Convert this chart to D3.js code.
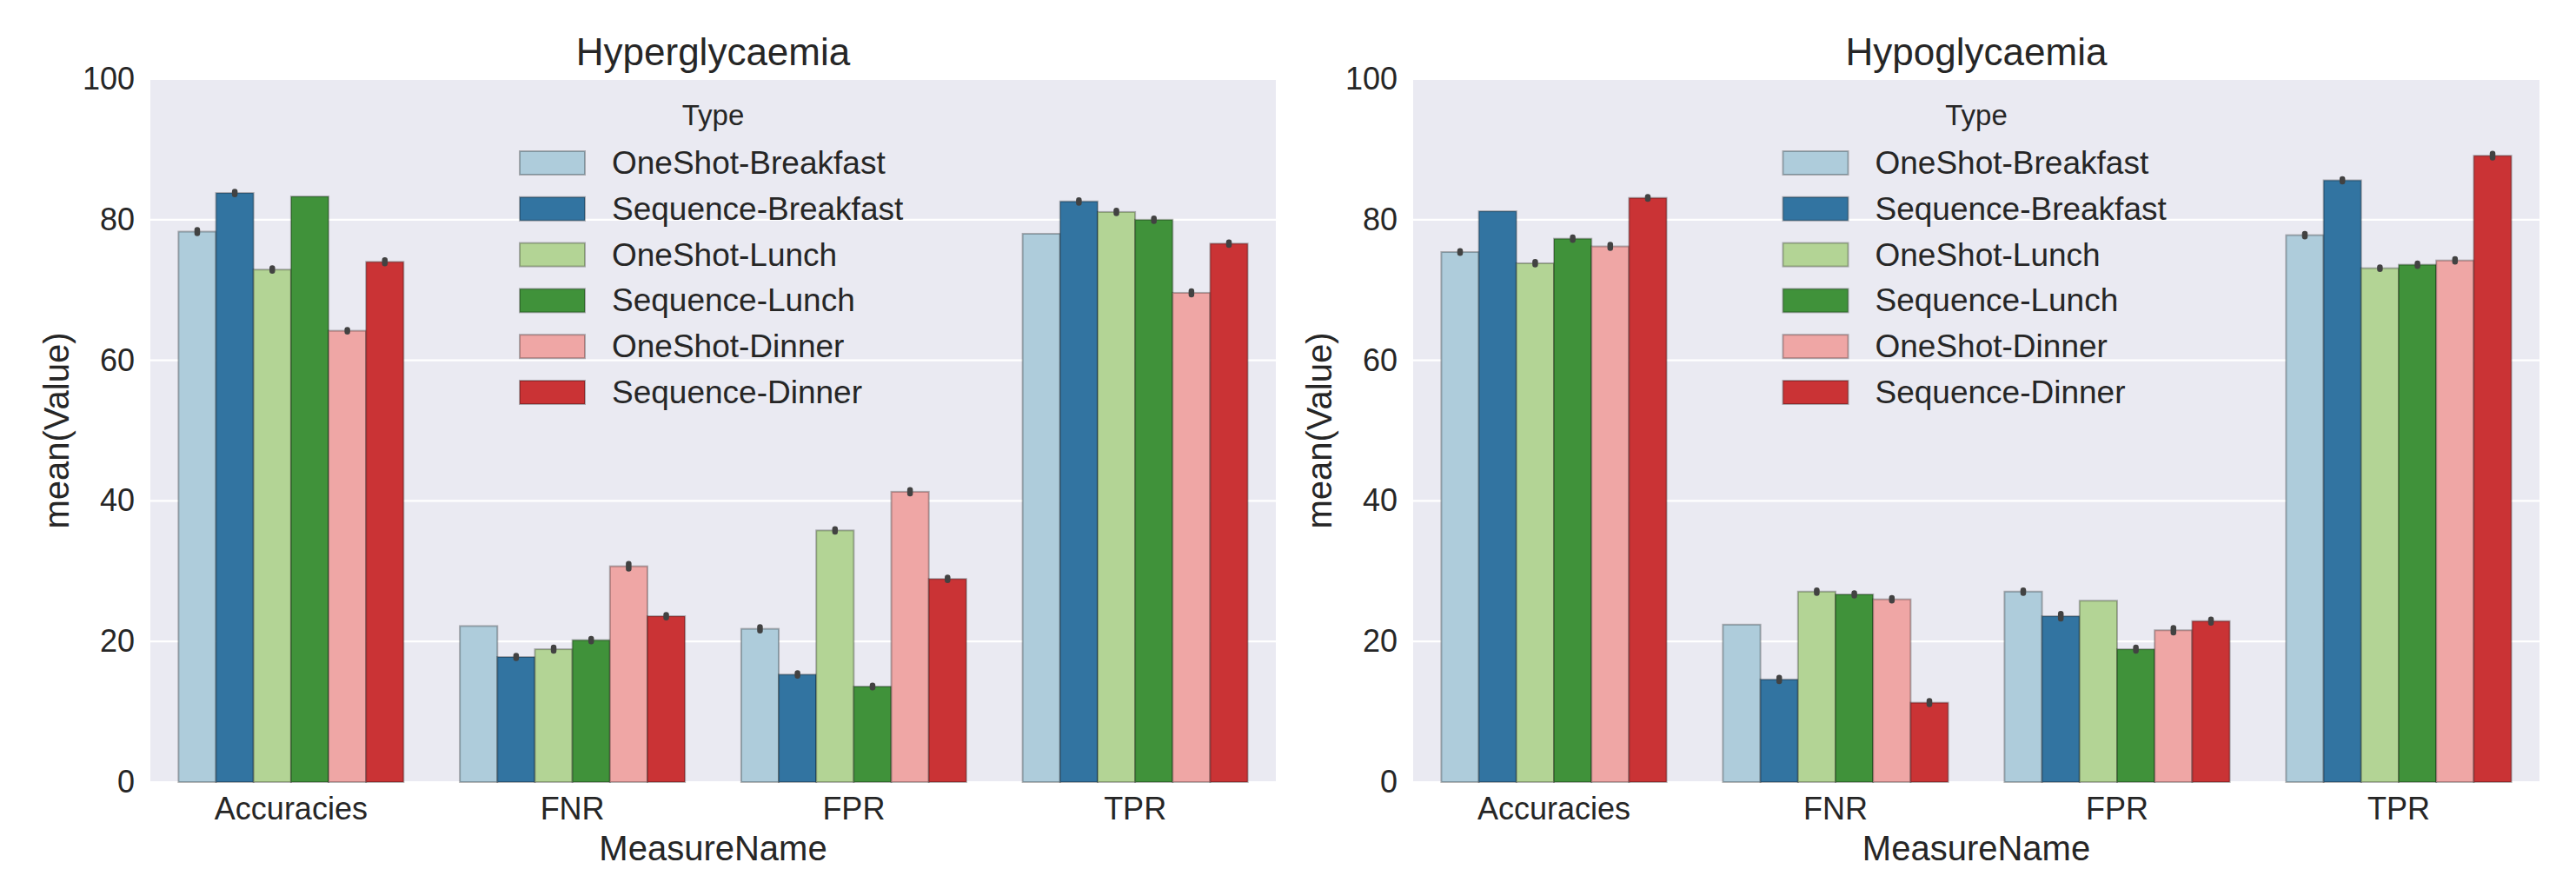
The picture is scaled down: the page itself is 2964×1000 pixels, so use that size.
<!DOCTYPE html>
<html>
<head>
<meta charset="utf-8">
<script src="https://cdn.jsdelivr.net/npm/d3@7"></script>
<style>
  html, body { margin: 0; padding: 0; background: #ffffff; }
  svg { display: block; font-family: "Liberation Sans", Arial, sans-serif; }
</style>
</head>
<body>
<svg id="chart" width="2964" height="1000"></svg>
<script>
// ---------------- DATA ----------------
const measures = ["Accuracies", "FNR", "FPR", "TPR"];
const types = ["OneShot-Breakfast", "Sequence-Breakfast", "OneShot-Lunch",
               "Sequence-Lunch", "OneShot-Dinner", "Sequence-Dinner"];
const yTicks = [0, 20, 40, 60, 80, 100];
const titles = ["Hyperglycaemia", "Hypoglycaemia"];

// values per type, in order of measures
const hyperValues = [
  [78.3, 22.2, 21.8, 78.0],   // OneShot-Breakfast
  [83.8, 17.8, 15.3, 82.6],   // Sequence-Breakfast
  [72.9, 18.9, 35.8, 81.1],   // OneShot-Lunch
  [83.3, 20.2, 13.6, 80.0],   // Sequence-Lunch
  [64.2, 30.7, 41.3, 69.6],   // OneShot-Dinner
  [74.0, 23.6, 28.9, 76.6]    // Sequence-Dinner
];
const hyperErrors = [
  [0.25, 0.00, 0.25, 0.00],
  [0.20, 0.20, 0.20, 0.20],
  [0.20, 0.25, 0.20, 0.20],
  [0.00, 0.20, 0.15, 0.20],
  [0.15, 0.35, 0.25, 0.25],
  [0.25, 0.20, 0.20, 0.20]
];
const hypoValues = [
  [75.4, 22.4, 27.1, 77.8],
  [81.2, 14.6, 23.6, 85.6],
  [73.8, 27.1, 25.8, 73.1],
  [77.3, 26.7, 18.9, 73.6],
  [76.2, 26.0, 21.6, 74.2],
  [83.1, 11.3, 22.9, 89.1]
];
const hypoErrors = [
  [0.15, 0.00, 0.20, 0.20],
  [0.00, 0.25, 0.35, 0.20],
  [0.20, 0.20, 0.00, 0.15],
  [0.20, 0.20, 0.25, 0.20],
  [0.25, 0.20, 0.35, 0.20],
  [0.15, 0.25, 0.25, 0.30]
];

// ---------------- STYLE ----------------
const colors = ["#aeccdb", "#3274a1", "#b3d495", "#40923a", "#efa6a5", "#ca3335"];
const textColor = "#262626";
const panels = [
  { x0: 173, x1: 1468, values: hyperValues, errors: hyperErrors, title: titles[0] },
  { x0: 1626, x1: 2922, values: hypoValues, errors: hypoErrors, title: titles[1] }
];
const yTop = 91, yBottom = 900;

const svg = d3.select("#chart");

panels.forEach(p => {
  const g = svg.append("g");
  const x = d3.scaleBand().domain(measures).range([p.x0, p.x1])
              .paddingInner(0.2).paddingOuter(0.1);
  const xs = d3.scaleBand().domain(types).range([0, x.bandwidth()]).padding(0);
  const y = d3.scaleLinear().domain([0, 100]).range([yBottom, yTop]);

  // background
  g.append("rect").attr("x", p.x0).attr("y", yTop)
    .attr("width", p.x1 - p.x0).attr("height", yBottom - yTop)
    .attr("fill", "#eaeaf2");

  // grid
  g.append("g").selectAll("line").data(yTicks).join("line")
    .attr("x1", p.x0).attr("x2", p.x1)
    .attr("y1", d => y(d)).attr("y2", d => y(d))
    .attr("stroke", "#ffffff").attr("stroke-width", 2.2);

  // y axis
  const ya = g.append("g").attr("transform", `translate(${p.x0},0)`)
    .call(d3.axisLeft(y).tickValues(yTicks).tickSize(0).tickPadding(18));
  ya.select(".domain").remove();
  ya.selectAll("text").attr("font-size", 36).attr("fill", textColor)
    .attr("font-family", "Liberation Sans, Arial, sans-serif");

  // x axis
  const xa = g.append("g").attr("transform", `translate(0,${yBottom})`)
    .call(d3.axisBottom(x).tickSize(0).tickPadding(17));
  xa.select(".domain").remove();
  xa.selectAll("text").attr("font-size", 36).attr("fill", textColor)
    .attr("font-family", "Liberation Sans, Arial, sans-serif");

  // bars
  types.forEach((t, ti) => {
    const rows = measures.map((m, mi) => ({ m, v: p.values[ti][mi], e: p.errors[ti][mi] }));
    g.append("g").selectAll("rect").data(rows).join("rect")
      .attr("x", d => x(d.m) + xs(t))
      .attr("y", d => y(d.v))
      .attr("width", xs.bandwidth())
      .attr("height", d => y(0) - y(d.v))
      .attr("fill", colors[ti])
      .attr("stroke", "rgba(0,0,0,0.28)")
      .attr("stroke-width", 2);
    g.append("g").selectAll("line").data(rows.filter(d => d.e > 0)).join("line")
      .attr("x1", d => x(d.m) + xs(t) + xs.bandwidth() / 2)
      .attr("x2", d => x(d.m) + xs(t) + xs.bandwidth() / 2)
      .attr("y1", d => y(d.v - d.e))
      .attr("y2", d => y(d.v + d.e))
      .attr("stroke", "#424242")
      .attr("stroke-width", 6.5)
      .attr("stroke-linecap", "round");
  });

  const cx = (p.x0 + p.x1) / 2;

  // title
  g.append("text").attr("x", cx).attr("y", 75).attr("text-anchor", "middle")
    .attr("font-size", 44).attr("fill", textColor).text(p.title);

  // axis labels
  g.append("text").attr("x", cx).attr("y", 990).attr("text-anchor", "middle")
    .attr("font-size", 40).attr("fill", textColor).text("MeasureName");
  g.append("text")
    .attr("transform", `translate(${p.x0 - 94},${(yTop + yBottom) / 2}) rotate(-90)`)
    .attr("text-anchor", "middle")
    .attr("font-size", 40).attr("fill", textColor).text("mean(Value)");

  // legend
  const lg = g.append("g");
  lg.append("text").attr("x", cx).attr("y", 144).attr("text-anchor", "middle")
    .attr("font-size", 33).attr("fill", textColor).text("Type");
  const lx = cx - 222.5;
  types.forEach((t, ti) => {
    const cyR = 187.5 + ti * 52.8;
    lg.append("rect").attr("x", lx).attr("y", cyR - 13.5)
      .attr("width", 75).attr("height", 27)
      .attr("fill", colors[ti]).attr("stroke", "rgba(0,0,0,0.28)").attr("stroke-width", 2);
    lg.append("text").attr("x", lx + 106).attr("y", cyR)
      .attr("dominant-baseline", "central")
      .attr("font-size", 37).attr("fill", textColor).text(t);
  });
});
</script>
</body>
</html>
